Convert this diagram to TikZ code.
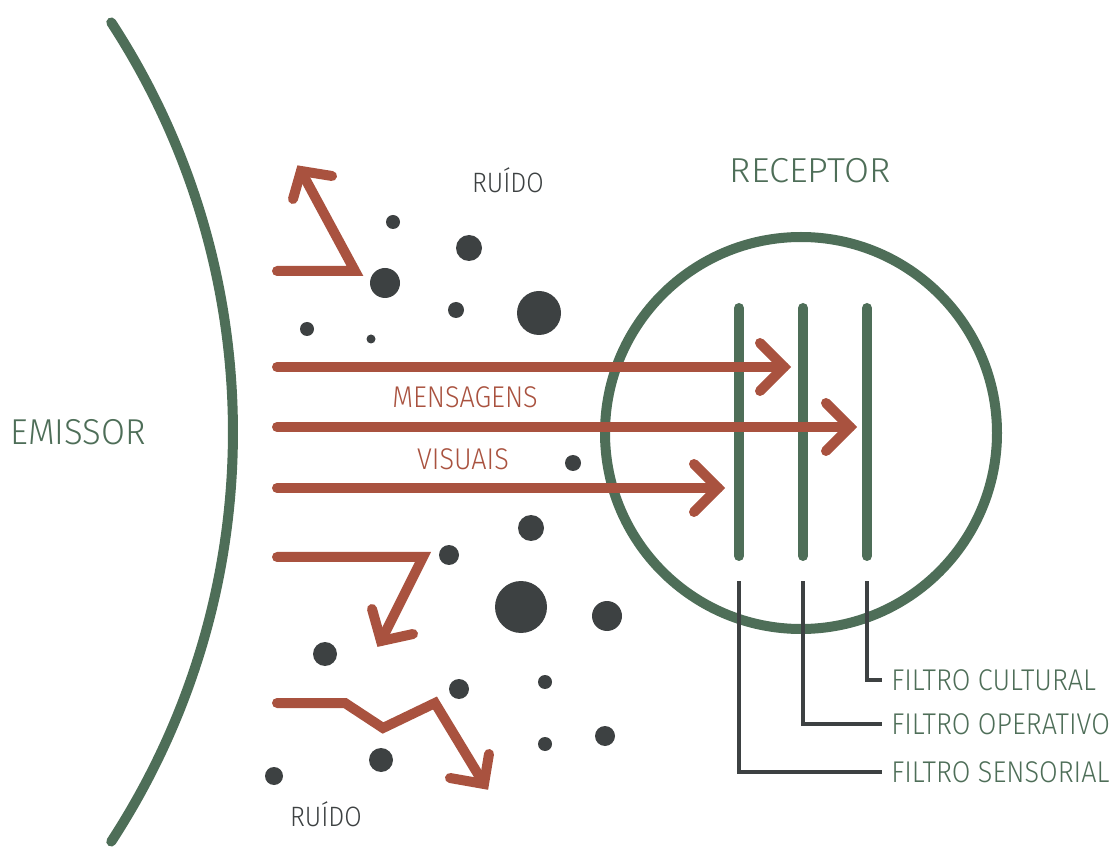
\documentclass[tikz,border=0pt]{standalone}
\usepackage{fontspec}
\usetikzlibrary{calc}
\setmainfont{Fira Sans}[UprightFont={* Light},FakeStretch=0.9]
\definecolor{grn}{HTML}{4E6E58}
\definecolor{rd}{HTML}{A9523F}
\definecolor{drk}{HTML}{3D4142}
\begin{document}
\begin{tikzpicture}[x=0.75pt,y=-0.75pt,
  gline/.style={draw=grn,line width=7.5pt,line cap=round},
  rline/.style={draw=rd,line width=7.5pt,line cap=round,line join=miter},
  kline/.style={draw=drk,line width=2.3pt},
  dot/.style={circle,fill=drk,inner sep=0pt,minimum size=#1*0.75pt},
  lbl/.style={text=grn,font=\fontsize{22.5}{22.5}\selectfont,anchor=west,inner sep=0pt},
  rlbl/.style={text=rd,font=\fontsize{22.5}{22.5}\selectfont,inner sep=0pt},
  nlbl/.style={text=drk,font=\fontsize{21}{21}\selectfont,inner sep=0pt}]
\useasboundingbox (0,0) rectangle (1111,848);
% emissor arc
\coordinate (ec) at (-517,432);
\draw[gline] (ec) ++(33.1:750) arc[start angle=33.1,end angle=-33.1,radius=750];
\node[text=grn,font=\fontsize{27}{27}\selectfont,anchor=west,inner sep=0pt] (emissor) at (10,432) {\scalebox{1.07}[1]{EMISSOR}};
% receptor
\node[circle,draw=grn,line width=7.5pt,minimum size=392*0.75pt,inner sep=0pt] (rec) at (801,433) {};
\node[text=grn,font=\fontsize{26}{26}\selectfont,inner sep=0pt] (receptor) at (810,171) {\scalebox{1.16}[1]{RECEPTOR}};
% filters
\coordinate (f1t) at (739,308); \coordinate (f1b) at (739,556);
\coordinate (f2t) at (803,308); \coordinate (f2b) at (803,556);
\coordinate (f3t) at (867,308); \coordinate (f3b) at (867,556);
\draw[gline] (f1t) -- (f1b);
\draw[gline] (f2t) -- (f2b);
\draw[gline] (f3t) -- (f3b);
% filter labels
\node[lbl] (fc) at (891,680) {FILTRO CULTURAL};
\node[lbl] (fo) at (891,724) {FILTRO OPERATIVO};
\node[lbl] (fs) at (891,772) {FILTRO SENSORIAL};
\coordinate (l1) at (739,581); \coordinate (l2) at (803,581); \coordinate (l3) at (867,581);
\draw[kline] (l3) |- ([xshift=-9*0.75pt]fc.west);
\draw[kline] (l2) |- ([xshift=-9*0.75pt]fo.west);
\draw[kline] (l1) |- ([xshift=-9*0.75pt]fs.west);
% message arrows
\coordinate (m1s) at (277,367); \coordinate (m1t) at (784,367);
\coordinate (m2s) at (277,427); \coordinate (m2t) at (850,427);
\coordinate (m3s) at (277,488); \coordinate (m3t) at (718,488);
\draw[rline] (m1s) -- (m1t);
\draw[rline] ($(m1t)+(-24,-24)$) -- (m1t) -- ($(m1t)+(-24,24)$);
\draw[rline] (m2s) -- (m2t);
\draw[rline] ($(m2t)+(-24,-24)$) -- (m2t) -- ($(m2t)+(-24,24)$);
\draw[rline] (m3s) -- (m3t);
\draw[rline] ($(m3t)+(-24,-24)$) -- (m3t) -- ($(m3t)+(-24,24)$);
\node[rlbl] (mens) at (465,397) {MENSAGENS};
\node[rlbl] (vis) at (463,459) {VISUAIS};
% noise arrows
\coordinate (n1a) at (277,271); \coordinate (n1b) at (355,271); \coordinate (n1t) at (301,171);
\draw[rline] (n1a) -- (n1b) -- (n1t);
\draw[rline] (293,199) -- (n1t) -- (332,176);
\coordinate (n2a) at (277,557); \coordinate (n2b) at (423,557); \coordinate (n2t) at (381,641);
\draw[rline] (n2a) -- (n2b) -- (n2t);
\draw[rline] (372,609) -- (n2t) -- (413,634);
\coordinate (n3a) at (277,703); \coordinate (n3b) at (345,703); \coordinate (n3c) at (383,728);
\coordinate (n3d) at (435,703); \coordinate (n3t) at (484,784);
\draw[rline] (n3a) -- (n3b) -- (n3c) -- (n3d) -- (n3t);
\draw[rline] (450,778) -- (n3t) -- (489,754);
\node[nlbl] (r1) at (508,180) {RUÍDO};
\node[nlbl] (r2) at (326,814) {RUÍDO};
% dots
\node[dot=14] (d1) at (393,222) {};
\node[dot=26] (d2) at (469,248) {};
\node[dot=30] (d3) at (385,283) {};
\node[dot=16] (d4) at (456,310) {};
\node[dot=44] (d5) at (539,313) {};
\node[dot=14] (d6) at (307,329) {};
\node[dot=9] (d7) at (371,339) {};
\node[dot=16] (d8) at (573,463) {};
\node[dot=26] (d9) at (531,528) {};
\node[dot=20] (d10) at (449,555) {};
\node[dot=52] (d11) at (521,607) {};
\node[dot=30] (d12) at (607,616) {};
\node[dot=24] (d13) at (325,654) {};
\node[dot=20] (d14) at (459,689) {};
\node[dot=14] (d15) at (545,682) {};
\node[dot=20] (d16) at (605,736) {};
\node[dot=14] (d17) at (545,744) {};
\node[dot=24] (d18) at (381,760) {};
\node[dot=18] (d19) at (274,776) {};
\end{tikzpicture}
\end{document}
